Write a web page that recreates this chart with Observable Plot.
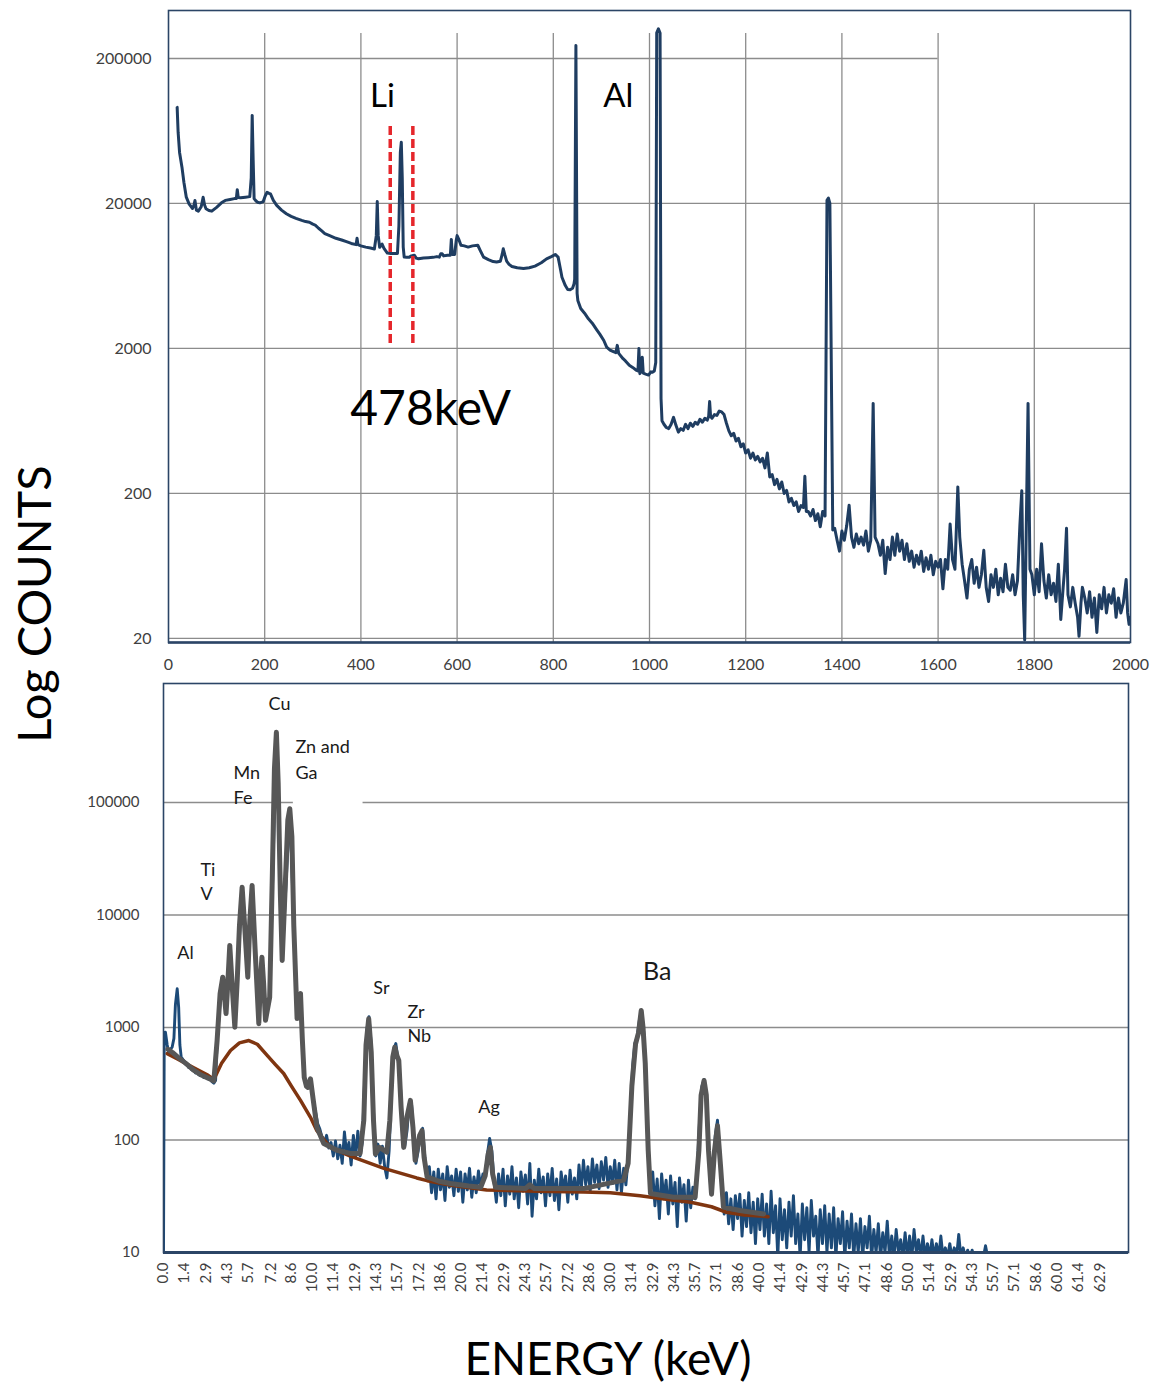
<!DOCTYPE html>
<html>
<head>
<meta charset="utf-8">
<script src="https://cdn.jsdelivr.net/npm/d3@7"></script>
<script src="https://cdn.jsdelivr.net/npm/@observablehq/plot@0.6"></script>
<style>
  html, body { margin: 0; padding: 0; background: #fff; }
  body { font-family: Lato, "Open Sans", sans-serif; }
  #page { position: relative; width: 1157px; height: 1385px; overflow: hidden; background: #fff; }
  #top { position: absolute; left: 0; top: 0; width: 1157px; height: 680px; }
  #bottom { position: absolute; left: 0; top: 680px; width: 1157px; height: 620px; }
  #top svg, #bottom svg { max-width: none !important; display: block; }
  #ylab { position: absolute; left: 33px; top: 604px; transform: translate(-50%, -50%) rotate(-90deg);
          font-size: 47px; white-space: nowrap; color: #000; line-height: 1; }
  #xlab { position: absolute; left: 608px; top: 1358px; transform: translate(-50%, -50%);
          font-size: 46px; white-space: nowrap; color: #000; line-height: 1; }
</style>
</head>
<body>
<div id="page">
  <div id="top"></div>
  <div id="bottom"></div>
  <div id="ylab">Log COUNTS</div>
  <div id="xlab">ENERGY (keV)</div>
</div>
<script>
// ---------------- TOP PANEL DATA (gamma spectrum, keV vs counts) ----------------
const topXTicks = [0, 200, 400, 600, 800, 1000, 1200, 1400, 1600, 1800, 2000];
const topYTicks = [20, 200, 2000, 20000, 200000];
const liWindowKeV = [461, 508];
const liWindowCounts = [2166, 69000];

const topSpectrum = [
[18,92000],[20,62000],[23,45000],[28,35600],[32,28000],[37,22100],[43,19800],[50,18470],[53,19500],[55,20960],
[58,18000],[62,17700],[68,19000],[72,22100],[75,19500],[78,18400],[84,17900],[90,17700],[100,18800],[110,20200],
[118,21000],[128,21300],[137,21600],[141,21600],[143,24900],[145,22000],[150,21900],[160,22100],[169,22300],[172,30000],
[174,81000],[176,40000],[178,21600],[182,20800],[185,20400],[190,20200],[197,20600],[201,22500],[205,23900],[209,23500],
[212,23300],[218,21000],[225,19400],[235,18000],[245,17000],[255,16300],[265,15800],[277,15300],[285,15000],[293,14850],
[300,14400],[305,14200],[312,13500],[318,13000],[325,12400],[335,12000],[348,11500],[360,11200],[370,10900],[380,10600],
[390,10400],[392,11500],[394,10400],[400,10200],[410,10000],[420,9850],[428,9700],[432,12000],[434,20600],[436,12000],
[439,9980],[444,10500],[448,9800],[455,9100],[462,9040],[470,9040],[476,9040],[479,14000],[482,45000],[484,52900],
[486,30000],[488,10000],[490,8530],[495,8500],[500,8500],[505,8700],[511,8800],[515,8400],[520,8300],[530,8400],
[540,8450],[550,8500],[558,8600],[563,8530],[566,9000],[569,9000],[572,8700],[580,8800],[586,8800],[588,11300],
[590,8900],[595,8900],[598,11000],[600,12000],[604,11200],[608,10300],[615,10200],[623,10000],[632,10200],[643,10300],
[648,9500],[655,8530],[665,8200],[675,7950],[682,7890],[690,8000],[694,9000],[696,9740],[699,8900],[703,8000],
[708,7600],[714,7350],[725,7200],[738,7110],[750,7200],[762,7400],[775,7800],[786,8300],[796,8600],[804,8900],
[810,8530],[815,7000],[818,6200],[825,5430],[830,5100],[835,5090],[840,5200],[843,5570],[844.5,6000],[847,246000],
[849.5,4800],[851,4290],[857,3770],[865,3500],[873,3200],[881,2990],[890,2700],[897,2500],[905,2270],[911,2040],
[918,1950],[925,1900],[930,1870],[933,2100],[936,1850],[945,1700],[950,1640],[958,1530],[965,1480],[972,1420],
[976,1400],[978,2000],[980,1340],[983,1400],[985,1740],[987,1350],[992,1330],[998,1310],[1003,1380],[1006,1370],
[1010,1400],[1013,1600],[1015,300000],[1018.5,320000],[1022,300000],[1024,900],[1026,634],[1030,600],[1035,570],[1040,560],
[1045,600],[1050,670],[1055,590],[1060,530],[1065,560],[1070,545],[1075,600],[1080,560],[1085,610],[1090,580],
[1095,620],[1100,600],[1105,650],[1110,620],[1115,660],[1120,640],[1123,680],[1125,860],[1127,680],[1130,660],
[1135,700],[1140,690],[1145,740],[1150,730],[1155,700],[1160,610],[1165,540],[1170,500],[1175,520],[1180,460],
[1185,480],[1190,420],[1195,440],[1200,380],[1205,400],[1210,350],[1215,380],[1220,340],[1225,360],[1230,330],
[1235,350],[1240,300],[1245,380],[1250,260],[1255,270],[1260,230],[1265,250],[1270,215],[1275,240],[1280,200],
[1285,210],[1290,175],[1295,185],[1300,165],[1305,175],[1310,150],[1315,165],[1320,160],[1323,263],[1326,150],
[1330,150],[1335,140],[1340,155],[1345,130],[1350,145],[1355,118],[1360,150],[1365,140],[1369,21000],[1372,21800],
[1375,20000],[1381,112],[1385,115],[1390,95],[1395,80],[1400,110],[1405,95],[1410,120],[1415,166],[1420,100],
[1425,85],[1430,105],[1435,90],[1440,100],[1445,88],[1450,110],[1455,80],[1460,95],[1465,836],[1469,100],
[1475,90],[1480,75],[1485,95],[1490,56],[1495,85],[1500,70],[1505,100],[1510,75],[1515,105],[1520,80],
[1525,95],[1530,70],[1535,90],[1540,68],[1545,80],[1550,62],[1555,75],[1560,65],[1565,80],[1570,58],
[1575,72],[1580,60],[1585,75],[1590,55],[1595,68],[1600,62],[1605,70],[1610,44],[1615,70],[1620,60],
[1625,123],[1630,70],[1635,60],[1641,222],[1645,100],[1650,65],[1655,50],[1660,38],[1665,60],[1670,70],
[1675,48],[1680,62],[1685,45],[1690,55],[1695,81],[1700,45],[1705,36],[1710,55],[1715,45],[1720,60],
[1725,40],[1730,52],[1735,42],[1740,65],[1745,45],[1750,43],[1755,55],[1760,40],[1765,50],[1770,120],
[1774,209],[1777,40],[1780,19.5],[1787,836],[1791,60],[1795,55],[1800,40],[1805,60],[1810,42],[1815,90],
[1820,50],[1825,38],[1830,55],[1835,40],[1840,48],[1845,36],[1850,65],[1855,27],[1860,45],[1863,60],
[1867,115],[1870,40],[1875,33],[1880,45],[1885,35],[1890,28],[1893,20.7],[1897,35],[1900,45],[1905,38],
[1910,30],[1915,42],[1920,28],[1925,38],[1930,22],[1935,40],[1940,32],[1945,45],[1950,30],[1955,40],
[1960,35],[1965,44],[1970,28],[1975,38],[1980,30],[1985,35],[1991,51],[1994,30],[1997,25],[2000,28]
];

const topLabels = [
  {label: "Li", keV: 445, counts: 93200},
  {label: "Al", keV: 935, counts: 93200}
];
const topEnergyLabel = [{label: "478keV", keV: 545, counts: 589}];

// ---------------- BOTTOM PANEL DATA (X-ray fluorescence spectrum) ----------------
const bottomXTickLabels = ["0.0","1.4","2.9","4.3","5.7","7.2","8.6","10.0","11.4","12.9","14.3","15.7","17.2","18.6","20.0",
  "21.4","22.9","24.3","25.7","27.2","28.6","30.0","31.4","32.9","34.3","35.7","37.1","38.6","40.0","41.4","42.9","44.3",
  "45.7","47.1","48.6","50.0","51.4","52.9","54.3","55.7","57.1","58.6","60.0","61.4","62.9"];
const bottomYTicks = [10, 100, 1000, 10000, 100000];

const bottomRaw = [
[0,9],[0.05,900],[0.13,908],[0.25,700],[0.36,588],[0.47,640],[0.58,668],[0.7,800],[0.8,1600],[0.92,2208],
[1.02,1500],[1.1,700],[1.19,545],[1.3,520],[1.4,500],[1.5,470],[1.59,475],[1.7,440],[1.8,455],[1.9,420],
[2.04,415],[2.15,395],[2.25,410],[2.36,380],[2.48,374],[2.6,385],[2.7,360],[2.8,375],[2.93,360],[3.05,345],
[3.15,355],[3.25,330],[3.38,320],[3.5,340],[3.6,766],[3.94,2800],[4.2,1330],[4.45,5360],[4.79,1007],[4.95,2620],
[5.28,17650],[5.66,2800],[5.95,18300],[6.4,1080],[6.61,4220],[6.85,1160],[7.13,1860],[7.58,421000],[7.97,3950],[8.48,88000],
[8.97,1200],[9.2,2000],[9.45,360],[9.7,293],[9.87,350],[10.05,230],
[10.2,180],[10.35,140],[10.5,125],[10.65,105],[10.8,95],[10.95,110],[11.1,85],[11.25,95],[11.4,72],[11.55,98],
[11.7,68],[11.85,90],[12.0,62],[12.15,118],[12.3,75],[12.45,95],[12.6,60],[12.75,110],[12.9,70],[13.05,120],
[13.2,72],[13.35,95],[13.5,320],[13.65,950],[13.8,1250],[13.95,700],[14.1,180],[14.25,72],[14.4,92],[14.55,62],
[14.7,88],[14.85,58],[15.0,46],[15.15,80],[15.3,250],[15.45,640],[15.6,720],[15.75,520],[15.9,330],[16.05,110],
[16.2,88],[16.35,120],[16.5,210],[16.65,215],[16.8,110],[16.95,62],[17.1,80],[17.25,115],[17.4,127],[17.55,70],
[17.7,46],[17.85,58],[18.0,34],[18.15,52],[18.3,30],[18.45,55],[18.6,36],[18.75,50],[18.9,29],[19.05,58],
[19.2,38],[19.35,48],[19.5,32],[19.65,55],[19.8,35],[19.95,52],[20.1,28],[20.25,50],[20.4,36],[20.55,56],
[20.7,31],[20.85,47],[21.0,34],[21.15,53],[21.3,38],[21.45,50],[21.6,48],[21.75,75],[21.9,103],[22.05,80],
[22.2,42],[22.35,28],[22.5,50],[22.65,32],[22.8,55],[22.95,26],[23.1,48],[23.25,33],[23.4,58],[23.55,30],
[23.7,46],[23.85,25],[24.0,52],[24.15,35],[24.3,49],[24.45,27],[24.6,62],[24.75,21],[24.9,44],[25.05,30],
[25.2,55],[25.35,34],[25.5,47],[25.65,26],[25.8,50],[25.95,32],[26.1,56],[26.25,29],[26.4,45],[26.55,24],
[26.7,52],[26.85,36],[27.0,48],[27.15,28],[27.3,54],[27.45,33],[27.6,46],[27.75,30],[27.9,60],[28.05,36],
[28.2,66],[28.35,40],[28.5,58],[28.65,35],[28.8,68],[28.95,42],[29.1,60],[29.25,37],[29.4,64],[29.55,44],
[29.7,70],[29.85,38],[30.0,58],[30.15,41],[30.3,66],[30.45,36],[30.6,62],[30.75,34],[30.9,56],[31.05,40],
[31.2,68],[31.35,150],[31.5,450],[31.65,720],[31.8,820],[31.95,1150],[32.1,1420],[32.25,900],[32.4,360],[32.55,75],
[32.7,34],[32.85,52],[33.0,26],[33.15,45],[33.3,20],[33.45,50],[33.6,30],[33.75,44],[33.9,22],[34.05,48],
[34.2,27],[34.35,42],[34.5,17],[34.65,46],[34.8,28],[34.95,40],[35.1,19],[35.25,44],[35.4,25],[35.55,38],
[35.7,30],[35.85,60],[36.0,150],[36.15,300],[36.3,345],[36.45,230],[36.6,90],[36.75,36],[36.9,50],[37.05,110],
[37.2,150],[37.35,80],[37.5,34],[37.65,22],[37.8,34],[37.95,18],[38.1,30],[38.25,16],[38.4,32],[38.55,20],
[38.7,33],[38.85,14],[39.0,29],[39.15,17],[39.3,34],[39.45,15],[39.6,28],[39.75,12],[39.9,30],[40.05,16],
[40.2,33],[40.35,14],[40.5,27],[40.65,12],[40.8,35],[40.95,15],[41.1,26],[41.25,9],[41.4,30],[41.55,13],
[41.7,24],[41.85,11],[42.0,28],[42.15,14],[42.3,32],[42.45,12],[42.6,22],[42.75,9],[42.9,27],[43.05,13],
[43.2,25],[43.35,10],[43.5,29],[43.65,14],[43.8,21],[43.95,9],[44.1,24],[44.25,12],[44.4,26],[44.55,10],
[44.7,22],[44.85,11],[45.0,25],[45.15,9],[45.3,20],[45.45,12],[45.6,23],[45.75,9],[45.9,19],[46.05,11],
[46.2,22],[46.35,9],[46.5,18],[46.65,10],[46.8,20],[46.95,9],[47.1,17],[47.25,11],[47.4,21],[47.55,9],
[47.7,16],[47.85,10],[48.0,18],[48.15,9],[48.3,15],[48.45,10],[48.6,19],[48.75,9],[48.9,14],[49.05,9],
[49.2,16],[49.35,10],[49.5,13],[49.65,9],[49.8,15],[49.95,9],[50.1,14],[50.25,9],[50.4,16],[50.55,10],
[50.7,13],[50.85,9],[51.0,14],[51.15,9],[51.3,12],[51.45,9],[51.6,13],[51.75,9],[51.9,12],[52.05,9],
[52.2,14],[52.35,9],[52.5,11],[52.65,9],[52.8,12],[52.95,9],[53.1,11],[53.25,9],[53.4,14.5],[53.55,9],
[53.7,11],[53.85,9],[54.0,10.5],[54.15,9],[54.3,10.5],[54.45,9],[54.6,9.5],[54.75,9],[54.9,9.5],[55.05,9],
[55.2,11.5],[55.35,9]
];

const bottomFit = [
[0.3,640],[0.6,600],[1.0,540],[1.5,480],[2.0,420],[2.5,380],[3.0,355],[3.38,335],[3.6,766],[3.8,2000],
[3.98,2800],[4.2,1330],[4.32,2500],[4.45,5360],[4.6,2500],[4.79,1007],[4.95,2620],[5.1,8000],[5.28,17650],[5.45,8000],
[5.66,2800],[5.8,9000],[5.95,18300],[6.15,5000],[6.4,1080],[6.5,2500],[6.61,4220],[6.72,2500],[6.85,1160],[7.13,1860],
[7.3,20000],[7.45,200000],[7.58,421000],[7.7,150000],[7.85,15000],[7.97,3950],[8.15,15000],[8.35,70000],[8.48,88000],[8.62,50000],
[8.75,8000],[8.97,1200],[9.08,1900],[9.2,2000],[9.32,800],[9.45,360],[9.6,300],[9.7,293],[9.87,350],[10.05,230],
[10.3,130],[10.76,93],[11.65,81],[12.55,76],[13.2,76],[13.45,150],[13.6,700],[13.78,1195],[13.95,600],[14.1,150],
[14.23,75],[14.5,86],[15.0,78],[15.2,150],[15.4,550],[15.53,668],[15.68,560],[15.8,510],[15.95,200],[16.13,86],
[16.35,160],[16.58,225],[16.75,130],[16.9,66],[17.2,110],[17.36,121],[17.5,70],[17.7,47],[18.5,43],[19.26,41],
[20.5,39],[21.3,38],[21.6,48],[21.8,75],[21.95,86],[22.1,50],[22.3,38],[24.3,37],[24.6,40],[24.9,37],
[28.2,37],[30.9,44],[31.2,62],[31.45,300],[31.7,716],[31.9,900],[32.08,1415],[32.2,1000],[32.35,480],[32.55,80],
[32.7,33.5],[34.25,31],[35.7,31],[35.95,80],[36.1,250],[36.3,338],[36.45,250],[36.6,80],[36.8,33],[37.0,80],
[37.2,134],[37.4,60],[37.6,25.3],[38.7,23.6],[40.3,22]
];

const bottomBackground = [
[0.25,585],[1.0,520],[2.0,440],[3.0,375],[3.38,345],[3.9,480],[4.5,625],[5.1,730],[5.73,766],[6.3,710],
[6.96,565],[7.5,470],[8.07,390],[8.6,300],[9.2,225],[9.87,159],[10.3,121],[10.8,100],[11.2,86],[12.55,72],
[14.8,56],[17.0,46],[17.7,43.5],[19.3,39.5],[21.7,36],[25,35],[28.2,34.5],[30,34],[32,32],[34,29.5],
[35.4,28],[36.8,25.5],[37.8,22.8],[39,21.5],[40.3,21],[40.6,20.8]
];

const peakLabelsStart = [
  {label: "Zn and", keV: 8.86, counts: 278000},
  {label: "Ga", keV: 8.86, counts: 163000},
  {label: "Mn", keV: 4.70, counts: 163000},
  {label: "Fe", keV: 4.70, counts: 97900},
  {label: "Ti", keV: 2.48, counts: 22400},
  {label: "V", keV: 2.48, counts: 13460},
  {label: "Sr", keV: 14.09, counts: 2005},
  {label: "Zr", keV: 16.38, counts: 1227},
  {label: "Nb", keV: 16.38, counts: 736},
  {label: "Ag", keV: 21.14, counts: 175}
];
const peakLabelsMiddle = [
  {label: "Cu", keV: 7.79, counts: 658000},
  {label: "Al", keV: 1.48, counts: 4105}
];
const baLabel = [{label: "Ba", keV: 32.2, counts: 2620}];

// grid extents of the original (parts hidden behind annotation boxes)
const topYMin = 18.75, topYMax = 428500;
const topVGridTop = 297000, top1800GridTop = 20000, top200kGridEnd = 1600;
const botXMax = 64.8, botYMin = 10, botYMax = 1142500;
const bot100kGap = [8.72, 13.4];

// ---------------- STYLES ----------------
const gridColor = "#8c8c8c";
const frameColor = "#2b4566";
const font = "Lato, 'Open Sans', sans-serif";

// ---------------- TOP PLOT ----------------
const topPlot = Plot.plot({
  width: 1157, height: 680,
  marginLeft: 168, marginRight: 27, marginTop: 10, marginBottom: 38,
  style: {fontFamily: font, fontSize: "16px", color: "#404040", background: "white", overflow: "visible"},
  x: {domain: [0, 2000]},
  y: {type: "log", domain: [topYMin, topYMax]},
  marks: [
    Plot.ruleY(topYTicks.filter(d => d < 200000), {stroke: gridColor, strokeWidth: 1.3}),
    Plot.ruleY([200000], {x1: 0, x2: top200kGridEnd, stroke: gridColor, strokeWidth: 1.3}),
    Plot.ruleX(topXTicks.filter(d => d > 0 && d < 1800), {y1: topYMin, y2: topVGridTop, stroke: gridColor, strokeWidth: 1.3}),
    Plot.ruleX([1800], {y1: topYMin, y2: top1800GridTop, stroke: gridColor, strokeWidth: 1.3}),
    Plot.line(topSpectrum, {x: d => d[0], y: d => d[1], stroke: "#1f3d61", strokeWidth: 3, strokeLinejoin: "round", clip: true}),
    Plot.ruleX(liWindowKeV, {y1: liWindowCounts[0], y2: liWindowCounts[1], stroke: "#e5262b", strokeWidth: 3.5, strokeDasharray: "9,4"}),
    Plot.text(topLabels, {x: "keV", y: "counts", text: "label", fontSize: 33, fill: "#000", textAnchor: "middle", lineAnchor: "bottom"}),
    Plot.text(topEnergyLabel, {x: "keV", y: "counts", text: "label", fontSize: 48, fill: "#000", textAnchor: "middle", lineAnchor: "bottom"}),
    Plot.frame({stroke: frameColor, strokeWidth: 1.6}),
    Plot.ruleY([topYMin], {stroke: frameColor, strokeWidth: 2.6}),
    Plot.axisX({ticks: topXTicks, tickSize: 0, tickPadding: 16, tickFormat: d => String(d), label: null, fontSize: 16}),
    Plot.axisY({ticks: topYTicks, tickSize: 0, tickPadding: 17, tickFormat: d => String(d), label: null, fontSize: 16})
  ]
});
document.getElementById("top").appendChild(topPlot);

// ---------------- BOTTOM PLOT ----------------
const bottomXTicks = bottomXTickLabels.map(Number);
const bottomPlot = Plot.plot({
  width: 1157, height: 620,
  marginLeft: 163, marginRight: 29, marginTop: 3, marginBottom: 48,
  style: {fontFamily: font, fontSize: "15px", color: "#404040", background: "white"},
  x: {domain: [0, botXMax]},
  y: {type: "log", domain: [botYMin, botYMax]},
  marks: [
    Plot.ruleY([100, 1000, 10000], {stroke: gridColor, strokeWidth: 1.3}),
    Plot.ruleY([100000], {x1: 0, x2: bot100kGap[0], stroke: gridColor, strokeWidth: 1.3}),
    Plot.ruleY([100000], {x1: bot100kGap[1], x2: botXMax, stroke: gridColor, strokeWidth: 1.3}),
    Plot.line(bottomRaw, {x: d => d[0], y: d => d[1], stroke: "#1c4a78", strokeWidth: 2.9, strokeLinejoin: "round", clip: true}),
    Plot.line(bottomBackground, {x: d => d[0], y: d => d[1], stroke: "#7f3510", strokeWidth: 3.5, strokeLinejoin: "round", clip: true}),
    Plot.line(bottomFit, {x: d => d[0], y: d => d[1], stroke: "#575757", strokeWidth: 5, strokeLinejoin: "round", clip: true}),
    Plot.text(peakLabelsStart, {x: "keV", y: "counts", text: "label", fontSize: 18, fill: "#1a1a1a", textAnchor: "start", lineAnchor: "bottom"}),
    Plot.text(peakLabelsMiddle, {x: "keV", y: "counts", text: "label", fontSize: 18, fill: "#1a1a1a", textAnchor: "middle", lineAnchor: "bottom"}),
    Plot.text(baLabel, {x: "keV", y: "counts", text: "label", fontSize: 25, fill: "#1a1a1a", textAnchor: "start", lineAnchor: "bottom"}),
    Plot.frame({stroke: frameColor, strokeWidth: 1.6}),
    Plot.ruleY([botYMin], {stroke: frameColor, strokeWidth: 3}),
    Plot.axisX({ticks: bottomXTicks, tickSize: 0, tickPadding: 10, tickRotate: -90,
      tickFormat: d => bottomXTickLabels[bottomXTicks.indexOf(d)], label: null, fontSize: 15}),
    Plot.axisY({ticks: bottomYTicks, tickSize: 0, tickPadding: 24, tickFormat: d => String(d), label: null, fontSize: 15})
  ]
});
document.getElementById("bottom").appendChild(bottomPlot);
</script>
</body>
</html>
